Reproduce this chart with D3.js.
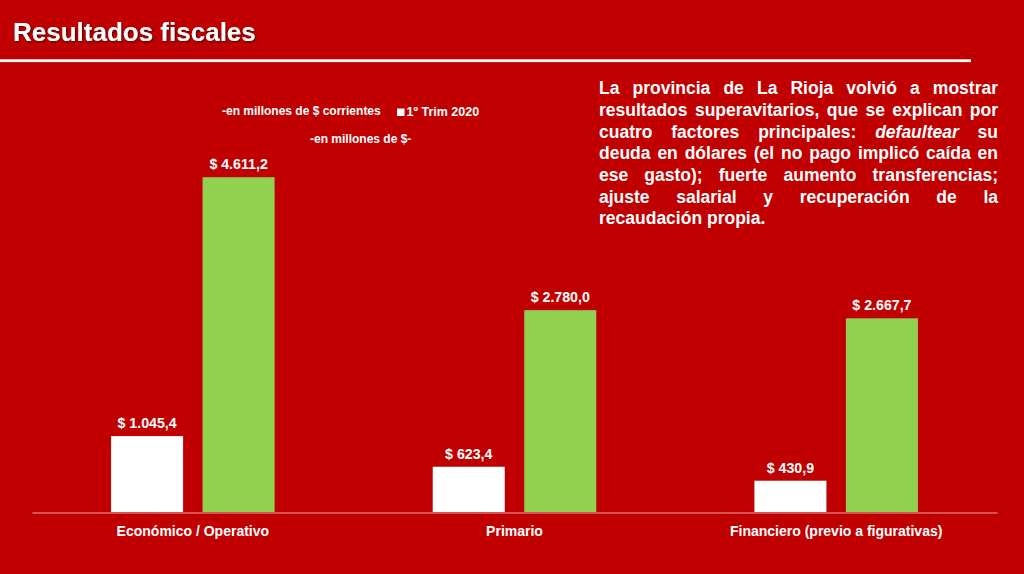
<!DOCTYPE html>
<html><head><meta charset="utf-8">
<script src="https://cdn.jsdelivr.net/npm/d3@7"></script>
<style>
html,body{margin:0;padding:0;background:#C00000;}
svg{display:block;font-family:"Liberation Sans",Arial,sans-serif;}
</style></head>
<body>
<svg id="chart" width="1024" height="574"></svg>
<script>
// ---- data ----
const categories = ["Económico / Operativo", "Primario", "Financiero (previo a figurativas)"];
const seriesNames = ["1º Trim 2020", "1º Trim 2021"];
const trim2020 = [1045.4, 623.4, 430.9];
const trim2021 = [4611.2, 2780.0, 2667.7];
const yDomain = [0, 5000];
const titleText = "Resultados fiscales";
const unitNote1 = "-en millones de $ corrientes";
const unitNote2 = "-en millones de $-";
const paragraph = [
  [["La provincia de La Rioja volvió a mostrar", false]],
  [["resultados superavitarios, que se explican por", false]],
  [["cuatro factores principales:", false], ["defaultear", true], ["su", false]],
  [["deuda en dólares (el no pago implicó caída en", false]],
  [["ese gasto); fuerte aumento transferencias;", false]],
  [["ajuste salarial y recuperación de la", false]],
  [["recaudación propia.", false]]
];

const svg = d3.select("#chart");
const W = 1024, H = 574;
svg.append("rect").attr("width", W).attr("height", H).attr("fill", "#C00000");

const defs = svg.append("defs");
const f = defs.append("filter").attr("id", "sh").attr("x", "-5%").attr("y", "-20%").attr("width", "115%").attr("height", "150%");
f.append("feDropShadow").attr("dx", 1.2).attr("dy", 1.2).attr("stdDeviation", 0.8).attr("flood-color", "#400000").attr("flood-opacity", 0.8);

// title + rule
svg.append("text").attr("x", 13).attr("y", 41).attr("fill", "#fff")
  .attr("font-size", 26).attr("font-weight", "bold").attr("filter", "url(#sh)").text(titleText);
svg.append("rect").attr("x", 0).attr("y", 59.3).attr("width", 971).attr("height", 2.8).attr("fill", "#fff");

// scales
const x0 = d3.scaleBand().domain(categories).range([32, 997]).padding(0);
const x1 = d3.scaleBand().domain(seriesNames).range([0, x0.bandwidth()]).paddingInner(0.213).paddingOuter(0.864);
const y = d3.scaleLinear().domain(yDomain).range([512, 149]);

const colors = {"1º Trim 2020": "#FFFFFF", "1º Trim 2021": "#92D050"};
const rows = categories.map((c, i) => ({cat: c, vals: [
  {s: seriesNames[0], v: trim2020[i]}, {s: seriesNames[1], v: trim2021[i]}]}));

const loc = d3.formatLocale({decimal: ",", thousands: ".", grouping: [3], currency: ["$", ""]});
const fmt = v => "$ " + loc.format(",.1f")(v);

const g = svg.append("g");
const grp = g.selectAll("g.cat").data(rows).join("g").attr("class", "cat")
  .attr("transform", d => `translate(${x0(d.cat)},0)`);
grp.selectAll("rect").data(d => d.vals).join("rect")
  .attr("x", d => x1(d.s)).attr("width", x1.bandwidth())
  .attr("y", d => y(d.v)).attr("height", d => y(0) - y(d.v))
  .attr("fill", d => colors[d.s]);
grp.selectAll("text.val").data(d => d.vals).join("text").attr("class", "val")
  .attr("x", d => x1(d.s) + x1.bandwidth() / 2).attr("y", d => y(d.v) - 8)
  .attr("text-anchor", "middle").attr("fill", "#fff").attr("font-size", 14.2).attr("font-weight", "bold")
  .text(d => fmt(d.v));

// axis
const ax = svg.append("g").attr("transform", "translate(0,512.5)")
  .call(d3.axisBottom(x0).tickSize(0).tickPadding(0));
ax.select(".domain").attr("stroke", "#E8A8A8").attr("stroke-width", 1);
ax.selectAll("text").attr("fill", "#fff").attr("font-size", 14).attr("font-weight", "bold")
  .attr("font-family", "Liberation Sans, Arial, sans-serif").attr("dy", 0).attr("y", 23);

// legend / notes
svg.append("text").attr("x", 222).attr("y", 114.5).attr("fill", "#fff").attr("font-size", 12).attr("font-weight", "bold").text(unitNote1);
svg.append("rect").attr("x", 397).attr("y", 108.5).attr("width", 7.5).attr("height", 7.5).attr("fill", colors[seriesNames[0]]);
svg.append("text").attr("x", 406.5).attr("y", 115.5).attr("fill", "#fff").attr("font-size", 12.5).attr("font-weight", "bold").text(seriesNames[0]);
svg.append("text").attr("x", 310).attr("y", 142.5).attr("fill", "#fff").attr("font-size", 12).attr("font-weight", "bold").text(unitNote2);

// justified paragraph
const px0 = 599, px1 = 998, pFont = 17.5, pY0 = 94.3, pLH = 21.67;
const meas = svg.append("text").attr("font-size", pFont).attr("font-weight", "bold").attr("visibility", "hidden");
function mw(t, it) { meas.attr("font-style", it ? "italic" : "normal").text(t); return meas.node().getComputedTextLength(); }
const spaceW = mw("a a", false) - mw("aa", false);
const pg = svg.append("g").attr("fill", "#fff").attr("font-size", pFont).attr("font-weight", "bold");
paragraph.forEach((line, li) => {
  const words = [];
  line.forEach(([t, it]) => t.split(" ").forEach(w => words.push({w, it})));
  words.forEach(d => d.len = mw(d.w, d.it));
  const total = d3.sum(words, d => d.len);
  const last = li === paragraph.length - 1;
  const gap = (!last && words.length > 1) ? (px1 - px0 - total) / (words.length - 1) : spaceW;
  let x = px0;
  words.forEach(d => {
    pg.append("text").attr("x", x).attr("y", pY0 + li * pLH).attr("font-style", d.it ? "italic" : "normal").text(d.w);
    x += d.len + gap;
  });
});
meas.remove();
</script>
</body></html>
